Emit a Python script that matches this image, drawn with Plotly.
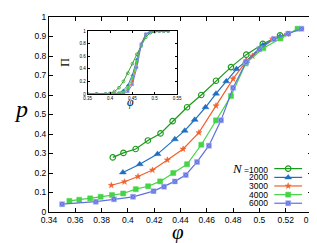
import plotly.graph_objects as go

# ---------------- data (main panel: p vs phi) ----------------
labels = ["1000", "2000", "3000", "4000", "6000"]

phi_1000 = [0.3885, 0.3966, 0.4059, 0.4152, 0.4248, 0.434, 0.445, 0.4558, 0.467, 0.4784, 0.490, 0.5026, 0.5157]
p_1000 = [0.28, 0.303, 0.323, 0.367, 0.403, 0.466, 0.537, 0.60, 0.673, 0.743, 0.807, 0.862, 0.906]

phi_2000 = [0.3962, 0.409, 0.4225, 0.4357, 0.4432, 0.4508, 0.459, 0.467, 0.4748, 0.4826, 0.490, 0.5026, 0.5157]
p_2000 = [0.203, 0.245, 0.297, 0.373, 0.417, 0.473, 0.537, 0.607, 0.67, 0.733, 0.775, 0.855, 0.90]

phi_3000 = [0.3874, 0.3974, 0.4077, 0.4187, 0.430, 0.442, 0.454, 0.467, 0.480, 0.490, 0.4947, 0.510, 0.521]
p_3000 = [0.137, 0.155, 0.182, 0.215, 0.267, 0.323, 0.407, 0.545, 0.683, 0.773, 0.80, 0.887, 0.912]

phi_4000 = [0.3555, 0.363, 0.3713, 0.3793, 0.3879, 0.3964, 0.406, 0.4154, 0.4245, 0.4345, 0.445, 0.4558, 0.467, 0.4784, 0.4896, 0.503, 0.516, 0.529]
p_4000 = [0.057, 0.063, 0.070, 0.078, 0.087, 0.095, 0.117, 0.132, 0.157, 0.20, 0.245, 0.345, 0.47, 0.595, 0.762, 0.84, 0.89, 0.94]

phi_6000 = [0.350, 0.3756, 0.3894, 0.4039, 0.4195, 0.4275, 0.4357, 0.444, 0.4526, 0.4616, 0.4708, 0.480, 0.490, 0.500, 0.511, 0.522, 0.532]
p_6000 = [0.040, 0.053, 0.065, 0.078, 0.107, 0.130, 0.157, 0.19, 0.257, 0.34, 0.47, 0.637, 0.77, 0.835, 0.887, 0.915, 0.94]

# ---------------- data (inset: Pi vs phi) ----------------
inset_phi = [0.35, 0.37, 0.39, 0.40, 0.41, 0.42, 0.43, 0.44, 0.45, 0.46, 0.47, 0.48, 0.49, 0.50, 0.51, 0.52, 0.53]
pi_1000 = [0.0, 0.0, 0.0, 0.01, 0.04, 0.10, 0.20, 0.33, 0.48, 0.63, 0.76, 0.90, 0.97, 0.99, 1.0, 1.0, 1.0]
pi_2000 = [0.0, 0.0, 0.0, 0.0, 0.0, 0.02, 0.06, 0.14, 0.30, 0.55, 0.80, 0.94, 0.98, 1.0, 1.0, 1.0, 1.0]
pi_3000 = [0.0, 0.0, 0.0, 0.0, 0.0, 0.0, 0.02, 0.07, 0.20, 0.50, 0.80, 0.95, 0.99, 1.0, 1.0, 1.0, 1.0]
pi_4000 = [0.0, 0.0, 0.0, 0.0, 0.0, 0.01, 0.03, 0.10, 0.25, 0.52, 0.78, 0.94, 0.99, 1.0, 1.0, 1.0, 1.0]
pi_6000 = [0.0, 0.0, 0.0, 0.0, 0.0, 0.0, 0.0, 0.04, 0.15, 0.42, 0.78, 0.95, 0.99, 1.0, 1.0, 1.0, 1.0]

x_ticks = [0.34, 0.36, 0.38, 0.40, 0.42, 0.44, 0.46, 0.48, 0.50, 0.52, 0.54]
x_ticktext = ["0.34", "0.36", "0.38", "0.4", "0.42", "0.44", "0.46", "0.48", "0.5", "0.52", "0.54"]
y_ticks = [0, 0.1, 0.2, 0.3, 0.4, 0.5, 0.6, 0.7, 0.8, 0.9, 1.0]
y_ticktext = ["0", "0.1", "0.2", "0.3", "0.4", "0.5", "0.6", "0.7", "0.8", "0.9", "1"]
ix_ticks = [0.35, 0.40, 0.45, 0.50, 0.55]
ix_ticktext = ["0.35", "0.4", "0.45", "0.5", "0.55"]
iy_ticks = [0, 0.2, 0.4, 0.6, 0.8, 1.0]
iy_ticktext = ["0", "0.2", "0.4", "0.6", "0.8", "1"]

# ---------------- styles ----------------
colors = ["#1a9a1a", "#1f6fc0", "#f0602a", "#44d444", "#6070e0"]
symbols = ["circle-open", "triangle-up", "star", "square", "square-x"]
msizes = [5.5, 6, 4.5, 5, 5]
isizes = [2.8, 2.8, 2.5, 2.5, 2.5]

series_main = [(phi_1000, p_1000), (phi_2000, p_2000), (phi_3000, p_3000),
               (phi_4000, p_4000), (phi_6000, p_6000)]
series_inset = [pi_1000, pi_2000, pi_3000, pi_4000, pi_6000]


def marker(i, size):
    return dict(symbol=symbols[i], size=size, color=colors[i],
                line=dict(width=1.1 if i == 0 else 0.5,
                          color=colors[i] if i != 4 else "#a8b2f2"))


fig = go.Figure()

for i, (xs, ys) in enumerate(series_main):
    fig.add_trace(go.Scatter(x=xs, y=ys, mode="lines+markers",
                             line=dict(color=colors[i], width=1.2),
                             marker=marker(i, msizes[i]), showlegend=False,
                             xaxis="x", yaxis="y"))

for i, ys in enumerate(series_inset):
    mk = marker(i, isizes[i])
    mk["line"]["width"] = 0.7 if i == 0 else 0.3
    fig.add_trace(go.Scatter(x=inset_phi, y=ys, mode="lines+markers",
                             line=dict(color=colors[i], width=0.9),
                             marker=mk, showlegend=False,
                             xaxis="x2", yaxis="y2"))

# ---------------- hand-made legend (text left, sample right) ----------------
leg_rows = [159.5, 168.5, 177.3, 186.2, 195.0]
for i in range(5):
    yy = leg_rows[i]
    fig.add_trace(go.Scatter(x=[268, 296], y=[yy, yy], mode="lines",
                             line=dict(color=colors[i], width=1.2),
                             showlegend=False, hoverinfo="skip",
                             xaxis="x3", yaxis="y3"))
    fig.add_trace(go.Scatter(x=[282], y=[yy], mode="markers", marker=marker(i, msizes[i]),
                             showlegend=False, hoverinfo="skip",
                             xaxis="x3", yaxis="y3"))
    txt = labels[i]
    if i == 0:
        txt = ('<span style="font-family:Liberation Serif;font-size:13px"><i>N</i></span>'
               ' =' + labels[i])
    fig.add_annotation(x=264, y=yy, xref="x3", yref="y3", text=txt,
                       showarrow=False, xanchor="right", yanchor="middle",
                       font=dict(family="Liberation Sans", size=8.5, color="black"))

axis_common = dict(showline=True, linecolor="black", linewidth=1, mirror="ticks",
                   ticks="inside", tickcolor="black", showgrid=False, zeroline=False)

fig.update_layout(
    width=317, height=243,
    margin=dict(l=41, r=11, t=4, b=39),
    paper_bgcolor="white", plot_bgcolor="white",
    font=dict(family="Liberation Sans", size=8.5, color="black"),
    xaxis=dict(domain=[0, 1], range=[0.34, 0.54], tickvals=x_ticks, ticktext=x_ticktext,
               ticklen=4, tickwidth=1, tickfont=dict(size=8.5), **axis_common),
    yaxis=dict(domain=[0, 1], range=[0, 1], tickvals=y_ticks, ticktext=y_ticktext,
               ticklen=4, tickwidth=1, tickfont=dict(size=8.5), **axis_common),
    xaxis2=dict(domain=[0.147, 0.487], range=[0.35, 0.55], anchor="y2",
                tickvals=ix_ticks, ticktext=ix_ticktext, ticklen=2, tickwidth=0.6,
                tickfont=dict(size=4.5), **axis_common),
    yaxis2=dict(domain=[0.605, 0.9285], range=[0, 1], anchor="x2",
                tickvals=iy_ticks, ticktext=iy_ticktext, ticklen=2, tickwidth=0.6,
                tickfont=dict(size=4.5), **axis_common),
    xaxis3=dict(domain=[0, 1], range=[41, 306], visible=False, anchor="y3",
                overlaying="x", fixedrange=True),
    yaxis3=dict(domain=[0, 1], range=[204, 4], visible=False, anchor="x3",
                overlaying="y", fixedrange=True),
)

# axis titles as annotations for exact placement
fig.add_annotation(x=(13 - 41) / 265, y=(204 - 98) / 200, xref="paper", yref="paper",
                   text="<i>p</i>", showarrow=False, xanchor="center", yanchor="middle",
                   font=dict(family="Liberation Serif", size=24, color="black"))
fig.add_annotation(x=(171 - 41) / 265, y=(204 - 225) / 200, xref="paper", yref="paper",
                   text="<i>φ</i>", showarrow=False, xanchor="center", yanchor="middle",
                   font=dict(family="Liberation Serif", size=21, color="black"))
fig.add_annotation(x=(57 - 41) / 265, y=(204 - 50) / 200, xref="paper", yref="paper",
                   text="Π", textangle=-90, showarrow=False, xanchor="center", yanchor="middle",
                   font=dict(family="Liberation Serif", size=12, color="black"))
fig.add_annotation(x=(123 - 41) / 265, y=(204 - 91) / 200, xref="paper", yref="paper",
                   text="<i>φ</i>", showarrow=False, xanchor="center", yanchor="middle",
                   font=dict(family="Liberation Serif", size=12, color="black"))

fig.write_html("out.html")
